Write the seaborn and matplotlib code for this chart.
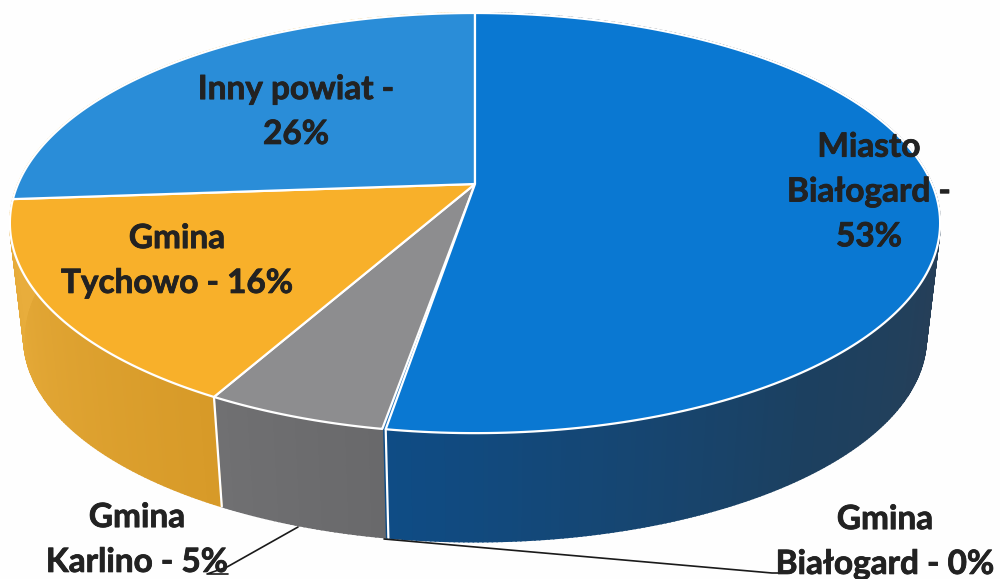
import numpy as np
import matplotlib
matplotlib.use("Agg")
import matplotlib.pyplot as plt
import matplotlib.patheffects as pe
import seaborn as sns

# slice sizes as drawn (labels show them rounded)
categories = ["Miasto Białogard", "Gmina Białogard", "Gmina Karlino", "Gmina Tychowo", "Inny powiat"]
shares = [52.55, 0.1, 5.28, 15.9, 26.17]
labels = ["Miasto\nBiałogard -\n53%", "Gmina\nBiałogard - 0%", "Gmina\nKarlino - 5%",
          "Gmina\nTychowo - 16%", "Inny powiat -\n26%"]
label_x = [869, 885, 137, 177, 296]
label_y = [192, 542, 540, 261, 112]

top_colors = ["#0a78d2", "#1f6fb5", "#8d8d8f", "#f8b02a", "#2a8dd8"]
wall_colors = [["#2b3d4f", "#2b3d4f", "#2a3f55", "#1c4060", "#0f4c85"],
               ["#0f4c85", "#0f4c85"],
               ["#69696b", "#707072"],
               ["#d79a28", "#e8ad3c"],
               ["#e8ad3c", "#e8ad3c"]]

sns.set_theme(style="white")
plt.rcParams["font.family"] = ["Lato", "DejaVu Sans"]

# perspective of the pie: apex, radii, tilt, and how the base ring is placed
apex_x, apex_y = 475, 184
rx, ry, tilt = 457, 202.8, 0.186
base_drop, base_scale = 116, 0.97


def top_point(deg):
    t = np.radians(deg)
    d = 1 + tilt * np.cos(t)
    return rx * np.sin(t) / d, -ry * np.cos(t) / d


def rim(deg):
    x, y = top_point(deg)
    return apex_x + x, apex_y + y


def base(deg):
    x, y = top_point(deg)
    return apex_x + base_scale * x, apex_y + base_drop + base_scale * y


fig, ax = plt.subplots(figsize=(10, 5.79), dpi=100)
fig.subplots_adjust(0, 0, 1, 1)
ax.set_xlim(0, 1000)
ax.set_ylim(579, 0)
ax.axis("off")
fig.patch.set_facecolor("#fefefe")

edges = np.cumsum([0] + shares) * 3.6

# side wall, thin quads along each slice
for i in range(len(shares)):
    steps = max(int(edges[i + 1] - edges[i]) * 2, 2)
    pal = sns.blend_palette(wall_colors[i], n_colors=steps)
    ang = np.linspace(edges[i], edges[i + 1], steps + 1)
    for j in range(steps):
        a = ang[j:j + 2]
        xt, yt = rim(a)
        xb, yb = base(a[::-1])
        ax.fill(np.r_[xt, xb], np.r_[yt, yb], color=pal[j], lw=1.2, zorder=2)

for deg in edges[1:4:2]:
    xt, yt = rim(deg)
    xb, yb = base(deg)
    ax.plot([xt, xb], [yt, yb], color="white", lw=1.6, zorder=3)

# top surface, the empty slice gets no outline of its own
for i in np.argsort(shares):
    ang = np.linspace(edges[i], edges[i + 1], 200)
    xr, yr = rim(ang)
    ax.fill(np.r_[apex_x, xr], np.r_[apex_y, yr], facecolor=top_colors[i],
            edgecolor="white", lw=1.6 if shares[i] > 1 else 0, joinstyle="round", zorder=4)

# leader lines of the two outer labels
ax.plot([298, 227, 207, 228], [527, 567, 574, 574], color="#1a1a1a", lw=1.2, zorder=5)
ax.plot([384, 772, 778], [539, 573, 573], color="#1a1a1a", lw=1.2, zorder=5)

for txt, x, y in zip(labels, label_x, label_y):
    ax.text(x, y, txt, ha="center", va="center", fontsize=24, fontweight="bold",
            color="#222222", linespacing=1.66, zorder=6,
            path_effects=[pe.withStroke(linewidth=0.6, foreground="#222222")])

fig.savefig("out.png", dpi=100, facecolor=fig.get_facecolor())
